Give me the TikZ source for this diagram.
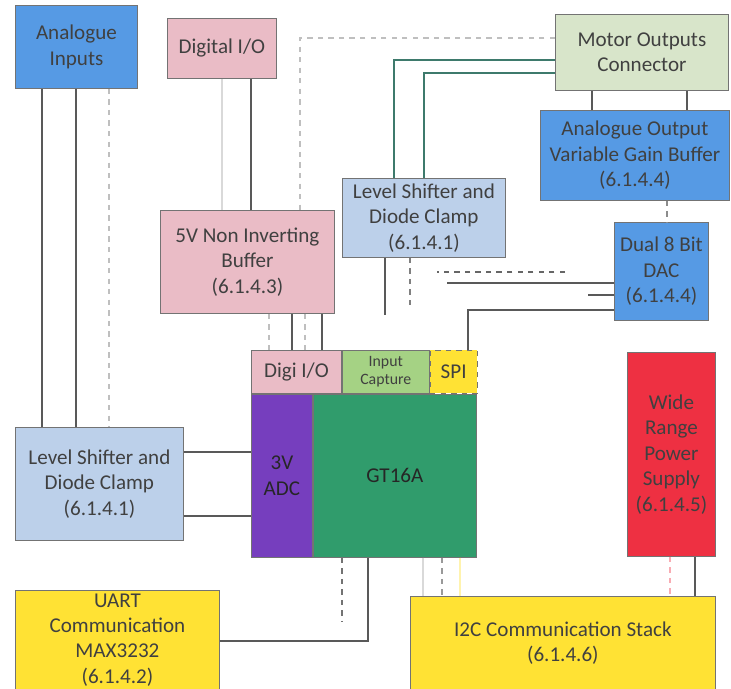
\documentclass[tikz,border=0pt]{standalone}
\usepackage{fontspec}
\setmainfont{Carlito}
\definecolor{inblue}{RGB}{86,154,228}
\definecolor{ltblue}{RGB}{188,208,234}
\definecolor{iopink}{RGB}{234,188,198}
\definecolor{motgreen}{RGB}{216,229,202}
\definecolor{capgreen}{RGB}{165,210,132}
\definecolor{commyel}{RGB}{255,226,52}
\definecolor{adcpurple}{RGB}{118,62,190}
\definecolor{mcugreen}{RGB}{48,156,108}
\definecolor{psured}{RGB}{238,48,66}
\definecolor{wireteal}{RGB}{62,122,108}
\begin{document}
\begin{tikzpicture}[x=0.02cm, y=-0.02cm,
  blk/.style={draw=black!55, line width=0.5pt, anchor=north west, align=center,
    inner sep=1pt, text=black!75, font=\fontsize{12}{14.5}\selectfont},
  wire/.style={draw=black!65, line width=0.7pt},
  faint/.style={draw=black!25, line width=0.6pt, dashed},
  gwire/.style={draw=wireteal, line width=0.8pt}]
  \useasboundingbox (0,0) rectangle (731,689);
  % Peripheral blocks
  \node[blk, fill=inblue, minimum width=2.44cm, minimum height=1.66cm] (ain) at (15,5) {Analogue\\Inputs};
  \node[blk, fill=iopink, minimum width=2.18cm, minimum height=1.2cm] (dio) at (167,18) {Digital I/O};
  \node[blk, fill=motgreen, minimum width=3.46cm, minimum height=1.52cm] (motor) at (555,14) {Motor Outputs\\Connector};
  \node[blk, fill=inblue, minimum width=3.78cm, minimum height=1.8cm] (aout) at (540,110) {Analogue Output\\Variable Gain Buffer\\(6.1.4.4)};
  \node[blk, fill=ltblue, minimum width=3.26cm, minimum height=1.58cm] (lst) at (342,178) {Level Shifter and\\Diode Clamp\\(6.1.4.1)};
  \node[blk, fill=iopink, minimum width=3.48cm, minimum height=2.06cm] (buf) at (160,210) {5V Non Inverting\\Buffer\\(6.1.4.3)};
  \node[blk, fill=inblue, minimum width=1.88cm, minimum height=1.96cm] (dac) at (614,222) {Dual 8 Bit\\DAC\\(6.1.4.4)};
  \node[blk, fill=ltblue, minimum width=3.36cm, minimum height=2.26cm] (lsl) at (15,427) {Level Shifter and\\Diode Clamp\\(6.1.4.1)};
  \node[blk, fill=psured, minimum width=1.76cm, minimum height=4.08cm] (psu) at (627,352) {Wide\\Range\\Power\\Supply\\(6.1.4.5)};
  \node[blk, fill=commyel, minimum width=4.08cm, minimum height=1.98cm] (uart) at (15,590) {UART\\Communication\\MAX3232\\(6.1.4.2)};
  \node[blk, fill=commyel, minimum width=6.1cm, minimum height=1.86cm] (i2c) at (410,596) {I2C Communication Stack\\(6.1.4.6)};
  % Microcontroller
  \node[blk, fill=iopink, minimum width=1.8cm, minimum height=0.86cm] (digi) at (251,350) {Digi I/O};
  \node[blk, fill=capgreen, minimum width=1.74cm, minimum height=0.86cm, font=\fontsize{9}{10}\selectfont] (icap) at (digi.north east) {Input\\Capture};
  \node[blk, fill=commyel, dashed, minimum width=0.94cm, minimum height=0.86cm] (spi) at (icap.north east) {SPI};
  \node[blk, fill=adcpurple, text=black!85, minimum width=1.22cm, minimum height=3.26cm] (adc) at (digi.south west) {3V\\ADC};
  \node[blk, fill=mcugreen, text=black!85, minimum width=3.26cm, minimum height=3.26cm] (mcu) at (adc.north east) {GT16A};
  % Rails
  \coordinate (xa1) at (42,0);
  \coordinate (xa2) at (76,0);
  \coordinate (xa3) at (109,0);
  \coordinate (xd1) at (222,0);
  \coordinate (xd2) at (251,0);
  \coordinate (xb1) at (269,0);
  \coordinate (xb2) at (292,0);
  \coordinate (xb3) at (305,0);
  \coordinate (xb4) at (322,0);
  \coordinate (ym0) at (0,38);
  \coordinate (xm0) at (300,0);
  \coordinate (ym1) at (0,60);
  \coordinate (ym2) at (0,73);
  \coordinate (xm1) at (394,0);
  \coordinate (xm2) at (424,0);
  \coordinate (xo1) at (592,0);
  \coordinate (xo2) at (687,0);
  \coordinate (xo3) at (667,0);
  \coordinate (lsA) at (385,315);
  \coordinate (lsB) at (410,308);
  \coordinate (dA1) at (565,272);
  \coordinate (dA2) at (437,272);
  \coordinate (dB) at (447,283);
  \coordinate (dC) at (588,295);
  \coordinate (yd4) at (0,310);
  \coordinate (xs) at (468,0);
  \coordinate (yl1) at (0,452);
  \coordinate (yl2) at (0,516);
  \coordinate (yu) at (0,641);
  \coordinate (xu) at (368,0);
  \coordinate (mF) at (342,621);
  \coordinate (xi1) at (423,0);
  \coordinate (xi2) at (442,0);
  \coordinate (xi3) at (460,0);
  \coordinate (xp1) at (670,0);
  \coordinate (xp2) at (695,0);
  % Analogue inputs
  \draw[wire] (ain.south -| xa1) -- (lsl.north -| xa1);
  \draw[wire] (ain.south -| xa2) -- (lsl.north -| xa2);
  \draw[faint] (ain.south -| xa3) -- (lsl.north -| xa3);
  % Digital I/O
  \draw[draw=black!15, line width=0.6pt] (dio.south -| xd1) -- (buf.north -| xd1);
  \draw[wire] (dio.south -| xd2) -- (buf.north -| xd2);
  \draw[faint] (buf.south -| xb1) -- (digi.north -| xb1);
  \draw[wire] (buf.south -| xb2) -- (digi.north -| xb2);
  \draw[faint] (buf.south -| xb3) -- (digi.north -| xb3);
  \draw[wire] (buf.south -| xb4) -- (digi.north -| xb4);
  % Motor outputs
  \draw[faint] (motor.west |- ym0) -| (buf.north -| xm0);
  \draw[gwire] (motor.west |- ym1) -| (lst.north -| xm1);
  \draw[gwire] (motor.west |- ym2) -| (lst.north -| xm2);
  \draw[wire] (motor.south -| xo1) -- (aout.north -| xo1);
  \draw[wire] (motor.south -| xo2) -- (aout.north -| xo2);
  \draw[faint, draw=black!45] (aout.south -| xo3) -- (dac.north -| xo3);
  % Level shifter outputs
  \draw[wire] (lst.south -| lsA) -- (lsA);
  \draw[faint, draw=black!50] (lst.south -| lsB) -- (lsB);
  % DAC
  \draw[faint, draw=black!60] (dA1) -- (dA2);
  \draw[wire] (dac.west |- dB) -- (dB);
  \draw[wire] (dac.west |- dC) -- (dC);
  \draw[wire] (dac.west |- yd4) -| (spi.north -| xs);
  % ADC inputs
  \draw[wire] (lsl.east |- yl1) -- (adc.west |- yl1);
  \draw[wire] (lsl.east |- yl2) -- (adc.west |- yl2);
  % Communication
  \draw[wire] (uart.east |- yu) -| (mcu.south -| xu);
  \draw[faint, draw=black!55] (mcu.south -| mF) -- (mF);
  \draw[draw=black!15, line width=0.6pt] (mcu.south -| xi1) -- (i2c.north -| xi1);
  \draw[faint, draw=black!40] (mcu.south -| xi2) -- (i2c.north -| xi2);
  \draw[draw=commyel!40, line width=0.8pt] (mcu.south -| xi3) -- (i2c.north -| xi3);
  \draw[faint, draw=psured!40] (psu.south -| xp1) -- (i2c.north -| xp1);
  \draw[wire] (psu.south -| xp2) -- (i2c.north -| xp2);
\end{tikzpicture}
\end{document}
